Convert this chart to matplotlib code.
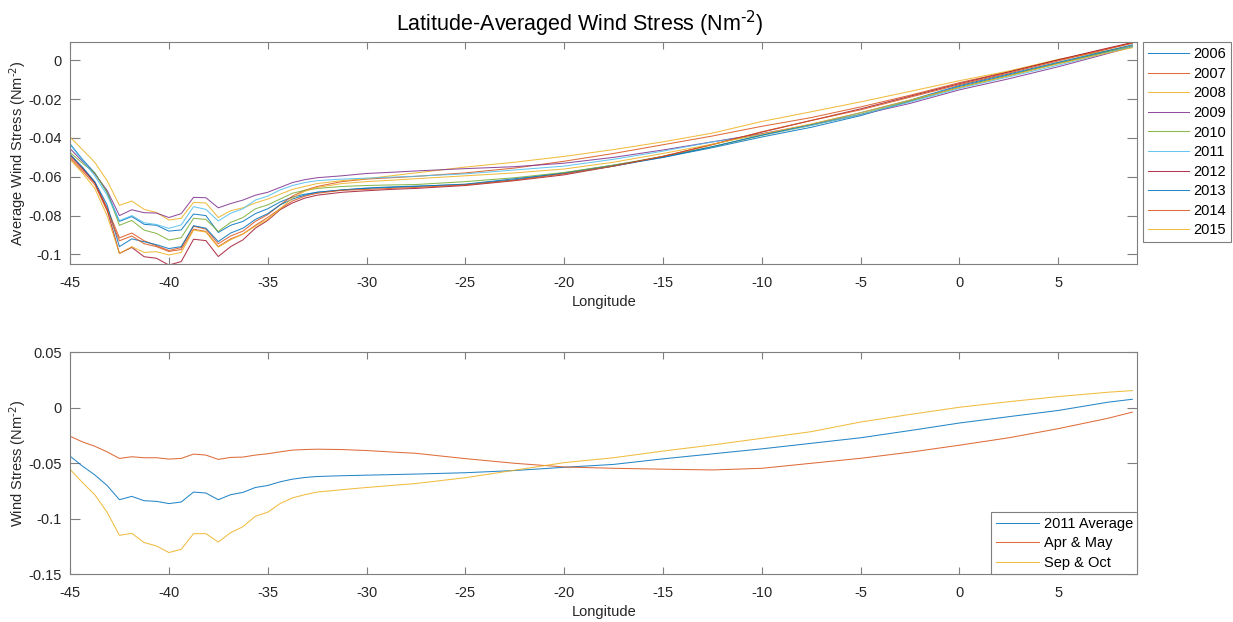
import numpy as np
import matplotlib
matplotlib.use("Agg")
from matplotlib import pyplot as plt
from matplotlib.ticker import FuncFormatter

plt.rcParams['font.family'] = ['Liberation Sans', 'DejaVu Sans']
plt.rcParams['mathtext.default'] = 'regular'
plt.rcParams['axes.unicode_minus'] = False

# longitude grid (dense where the curves wiggle)
lon = [-45, -44.375, -43.75, -43.125, -42.5, -41.875, -41.25, -40.625, -40, -39.375,
       -38.75, -38.125, -37.5, -36.875, -36.25, -35.625, -35, -34.375, -33.75, -33.125,
       -32.5, -31.25, -30, -28.75, -27.5, -25, -22.5, -20, -17.5, -15,
       -12.5, -10, -7.5, -5, -2.5, 0, 2.5, 5, 7.5, 8.75]

years = ['2006', '2007', '2008', '2009', '2010', '2011', '2012', '2013', '2014', '2015']

ws_2006 = [-0.0430, -0.0510, -0.0580, -0.0680, -0.0830, -0.0805, -0.0845, -0.0850, -0.0880, -0.0874,
           -0.0792, -0.0800, -0.0887, -0.0850, -0.0830, -0.0790, -0.0765, -0.0730, -0.0705, -0.0690,
           -0.0680, -0.0668, -0.0658, -0.0652, -0.0648, -0.0640, -0.0615, -0.0580, -0.0540, -0.0500,
           -0.0450, -0.0395, -0.0345, -0.0285, -0.0210, -0.0135, -0.0075, -0.0015, 0.0045, 0.0075]
ws_2007 = [-0.0495, -0.0560, -0.0630, -0.0760, -0.0915, -0.0890, -0.0930, -0.0955, -0.0980, -0.0965,
           -0.0855, -0.0870, -0.0945, -0.0905, -0.0880, -0.0830, -0.0795, -0.0745, -0.0700, -0.0670,
           -0.0650, -0.0625, -0.0612, -0.0605, -0.0598, -0.0580, -0.0555, -0.0520, -0.0480, -0.0435,
           -0.0390, -0.0340, -0.0295, -0.0240, -0.0180, -0.0115, -0.0058, 0.0002, 0.0060, 0.0090]
ws_2008 = [-0.0395, -0.0460, -0.0525, -0.0620, -0.0747, -0.0725, -0.0768, -0.0784, -0.0823, -0.0814,
           -0.0732, -0.0735, -0.0810, -0.0775, -0.0760, -0.0735, -0.0715, -0.0690, -0.0665, -0.0650,
           -0.0635, -0.0620, -0.0610, -0.0595, -0.0580, -0.0550, -0.0525, -0.0495, -0.0460, -0.0420,
           -0.0375, -0.0315, -0.0265, -0.0214, -0.0160, -0.0105, -0.0055, 0.0005, 0.0050, 0.0075]
ws_2009 = [-0.0455, -0.0520, -0.0585, -0.0670, -0.0800, -0.0770, -0.0785, -0.0787, -0.0810, -0.0790,
           -0.0706, -0.0708, -0.0760, -0.0738, -0.0720, -0.0695, -0.0680, -0.0655, -0.0630, -0.0615,
           -0.0605, -0.0595, -0.0583, -0.0577, -0.0570, -0.0558, -0.0548, -0.0530, -0.0500, -0.0462,
           -0.0420, -0.0378, -0.0332, -0.0280, -0.0222, -0.0152, -0.0095, -0.0033, 0.0035, 0.0070]
ws_2010 = [-0.0475, -0.0530, -0.0580, -0.0680, -0.0850, -0.0825, -0.0875, -0.0892, -0.0926, -0.0914,
           -0.0814, -0.0820, -0.0882, -0.0835, -0.0810, -0.0765, -0.0745, -0.0715, -0.0685, -0.0670,
           -0.0660, -0.0650, -0.0645, -0.0642, -0.0640, -0.0625, -0.0605, -0.0578, -0.0540, -0.0495,
           -0.0445, -0.0387, -0.0335, -0.0278, -0.0210, -0.0140, -0.0078, -0.0015, 0.0045, 0.0072]
ws_2011 = [-0.0435, -0.0515, -0.0595, -0.0695, -0.0826, -0.0800, -0.0837, -0.0846, -0.0866, -0.0848,
           -0.0754, -0.0768, -0.0828, -0.0788, -0.0765, -0.0720, -0.0700, -0.0668, -0.0645, -0.0630,
           -0.0620, -0.0612, -0.0607, -0.0602, -0.0597, -0.0585, -0.0565, -0.0545, -0.0510, -0.0468,
           -0.0420, -0.0385, -0.0335, -0.0280, -0.0215, -0.0145, -0.0085, -0.0025, 0.0040, 0.0070]
ws_2012 = [-0.0485, -0.0555, -0.0630, -0.0770, -0.0995, -0.0964, -0.1012, -0.1020, -0.1055, -0.1037,
           -0.0922, -0.0929, -0.1011, -0.0960, -0.0925, -0.0865, -0.0825, -0.0770, -0.0735, -0.0710,
           -0.0695, -0.0680, -0.0672, -0.0665, -0.0660, -0.0645, -0.0620, -0.0590, -0.0545, -0.0495,
           -0.0433, -0.0370, -0.0310, -0.0250, -0.0185, -0.0120, -0.0060, 0.0003, 0.0063, 0.0092]
ws_2013 = [-0.0485, -0.0550, -0.0625, -0.0745, -0.0960, -0.0920, -0.0935, -0.0950, -0.0970, -0.0960,
           -0.0852, -0.0865, -0.0934, -0.0890, -0.0865, -0.0820, -0.0790, -0.0745, -0.0715, -0.0695,
           -0.0680, -0.0668, -0.0660, -0.0655, -0.0650, -0.0638, -0.0610, -0.0583, -0.0545, -0.0500,
           -0.0445, -0.0385, -0.0330, -0.0270, -0.0205, -0.0130, -0.0070, -0.0010, 0.0050, 0.0080]
ws_2014 = [-0.0505, -0.0570, -0.0640, -0.0775, -0.0930, -0.0905, -0.0945, -0.0960, -0.0985, -0.0975,
           -0.0870, -0.0882, -0.0960, -0.0920, -0.0895, -0.0850, -0.0810, -0.0765, -0.0725, -0.0700,
           -0.0685, -0.0670, -0.0665, -0.0660, -0.0655, -0.0642, -0.0618, -0.0585, -0.0545, -0.0495,
           -0.0435, -0.0368, -0.0310, -0.0255, -0.0190, -0.0125, -0.0065, -0.0003, 0.0058, 0.0088]
ws_2015 = [-0.0510, -0.0580, -0.0660, -0.0800, -0.0995, -0.0960, -0.0990, -0.0986, -0.1003, -0.0990,
           -0.0875, -0.0885, -0.0962, -0.0925, -0.0895, -0.0855, -0.0820, -0.0765, -0.0710, -0.0675,
           -0.0655, -0.0635, -0.0625, -0.0618, -0.0610, -0.0595, -0.0580, -0.0560, -0.0525, -0.0480,
           -0.0432, -0.0380, -0.0328, -0.0270, -0.0205, -0.0140, -0.0080, -0.0018, 0.0038, 0.0065]

avg_2011 = [-0.0435, -0.0525, -0.0604, -0.0700, -0.0828, -0.0798, -0.0837, -0.0843, -0.0863, -0.0849,
            -0.0759, -0.0768, -0.0828, -0.0783, -0.0762, -0.0718, -0.0700, -0.0667, -0.0643, -0.0628,
            -0.0619, -0.0612, -0.0607, -0.0602, -0.0597, -0.0585, -0.0565, -0.0536, -0.0510, -0.0460,
            -0.0415, -0.0370, -0.0320, -0.0270, -0.0205, -0.0137, -0.0080, -0.0024, 0.0050, 0.0077]
apr_may = [-0.0256, -0.0307, -0.0346, -0.0397, -0.0456, -0.0441, -0.0450, -0.0450, -0.0462, -0.0456,
           -0.0417, -0.0426, -0.0465, -0.0447, -0.0444, -0.0426, -0.0414, -0.0397, -0.0381, -0.0376,
           -0.0373, -0.0376, -0.0385, -0.0398, -0.0410, -0.0458, -0.0500, -0.0533, -0.0545, -0.0553,
           -0.0560, -0.0545, -0.0500, -0.0455, -0.0400, -0.0337, -0.0270, -0.0188, -0.0095, -0.0039]
sep_oct = [-0.0554, -0.0673, -0.0783, -0.0941, -0.1149, -0.1131, -0.1214, -0.1245, -0.1304, -0.1275,
           -0.1134, -0.1134, -0.1209, -0.1125, -0.1071, -0.0977, -0.0941, -0.0863, -0.0812, -0.0783,
           -0.0759, -0.0738, -0.0718, -0.0700, -0.0682, -0.0630, -0.0562, -0.0494, -0.0450, -0.0390,
           -0.0335, -0.0275, -0.0215, -0.0128, -0.0060, 0.0005, 0.0055, 0.0101, 0.0140, 0.0155]

top_series = [ws_2006, ws_2007, ws_2008, ws_2009, ws_2010, ws_2011, ws_2012, ws_2013, ws_2014, ws_2015]
season_labels = ['2011 Average', 'Apr & May', 'Sep & Oct']
season_series = [avg_2011, apr_may, sep_oct]

# matlab default line colours
mcolors = ['#0072BD', '#D95319', '#EDB120', '#7E2F8E', '#77AC30', '#4DBEEE', '#A2142F']
edge = '#7f7f7f'
txt = '#262626'
fs = 10.5

fmt = FuncFormatter(lambda v, p: '%g' % round(v, 4))


def style_axes(ax):
    for s in ax.spines.values():
        s.set_color(edge)
        s.set_linewidth(0.8)
    ax.tick_params(direction='in', top=True, right=True, colors=edge, labelcolor=txt,
                   labelsize=fs, width=0.8)
    ax.tick_params(axis='x', length=5, pad=8.5)
    ax.tick_params(axis='y', length=7, pad=6)
    ax.set_xticks(np.arange(-45, 6, 5))
    ax.xaxis.set_major_formatter(fmt)
    ax.yaxis.set_major_formatter(fmt)
    ax.set_xlim(-45, 9)
    ax.set_xlabel('Longitude', fontsize=fs, color=txt, labelpad=3.5)


fig = plt.figure(figsize=(12.33, 6.22), dpi=100)
ax1 = fig.add_axes([0.0568, 0.5751, 0.8656, 0.3569])
ax2 = fig.add_axes([0.0568, 0.0767, 0.8656, 0.3569])

for i, (yr, vals) in enumerate(zip(years, top_series)):
    ax1.plot(lon, vals, color=mcolors[i % 7], lw=0.75, alpha=0.85, label=yr)
style_axes(ax1)
ax1.set_ylim(-0.1051, 0.0093)
ax1.set_yticks([-0.1, -0.08, -0.06, -0.04, -0.02, 0])
ax1.set_ylabel(r'Average Wind Stress (Nm$^{\text{-2}}$)', fontsize=fs, color=txt, labelpad=0)
leg1 = ax1.legend(loc='upper left', bbox_to_anchor=(1.0053, 1.0), borderaxespad=0,
                  fontsize=fs, handlelength=2.8, labelspacing=0.38, handletextpad=0.3,
                  fancybox=False, framealpha=1, edgecolor=edge, borderpad=0.35)
leg1.get_frame().set_linewidth(0.8)

for i, (lab, vals) in enumerate(zip(season_labels, season_series)):
    ax2.plot(lon, vals, color=mcolors[i], lw=0.75, alpha=0.85, label=lab)
style_axes(ax2)
ax2.set_ylim(-0.15, 0.05)
ax2.set_yticks([-0.15, -0.1, -0.05, 0, 0.05])
ax2.set_ylabel(r'Wind Stress (Nm$^{\text{-2}}$)', fontsize=fs, color=txt, labelpad=0)
leg2 = ax2.legend(loc='lower right', borderaxespad=0, fontsize=fs, handlelength=3.0,
                  labelspacing=0.38, handletextpad=0.3, fancybox=False, framealpha=1,
                  edgecolor=edge, borderpad=0.3)
leg2.get_frame().set_linewidth(0.8)

fig.text(0.4705, 1 - 31 / 622, r'Latitude-Averaged Wind Stress (Nm$^{\text{-2}}$)',
         ha='center', va='baseline', fontsize=15.5, color='black')

fig.savefig('out.png', dpi=100)
